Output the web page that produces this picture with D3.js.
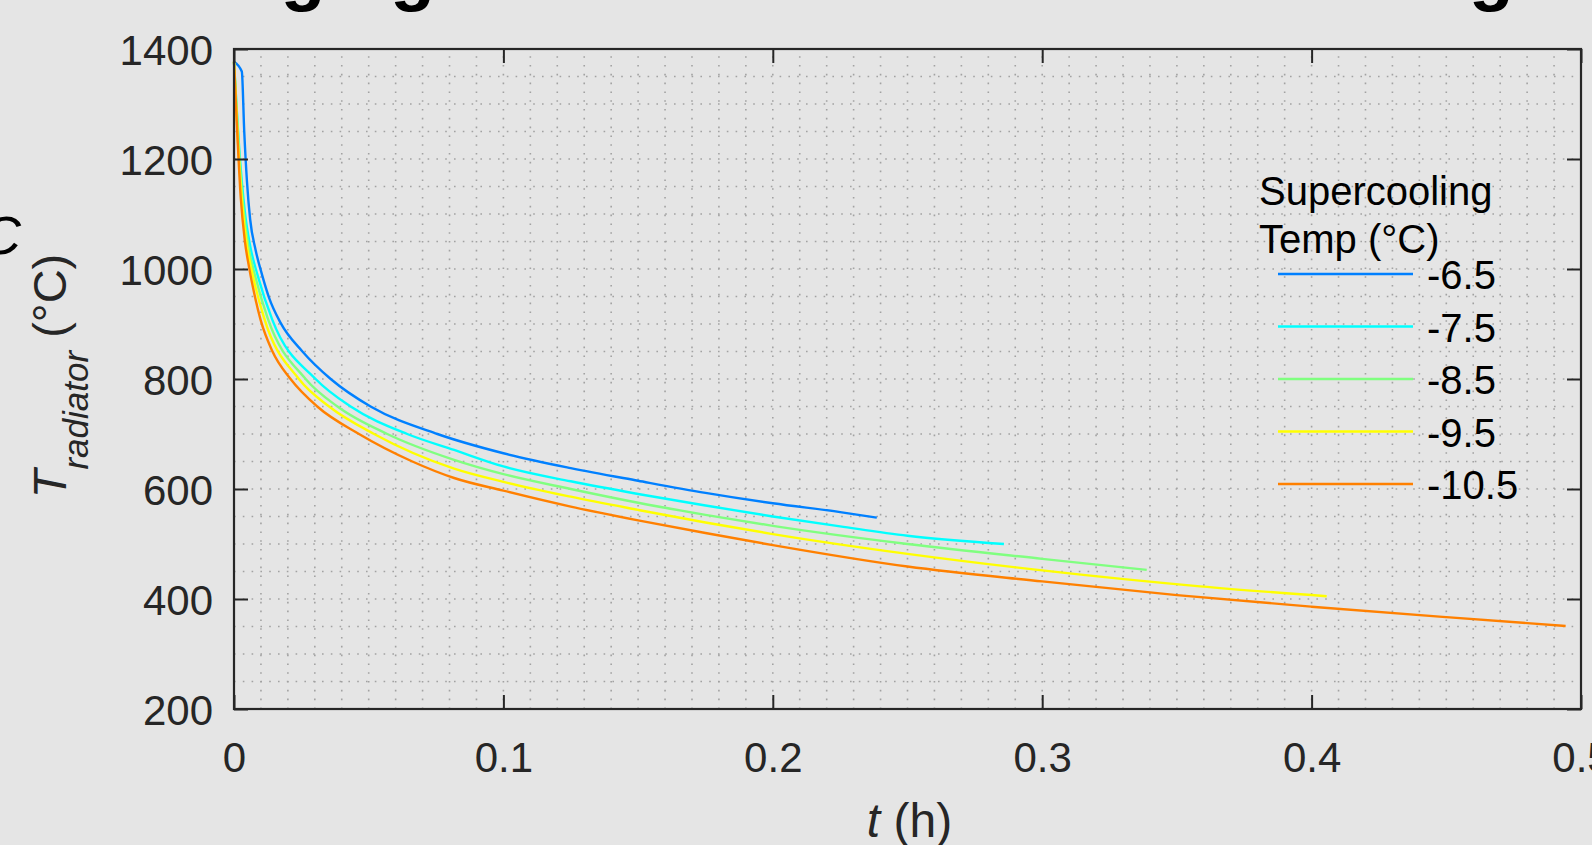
<!DOCTYPE html>
<html><head><meta charset="utf-8">
<script src="https://cdn.jsdelivr.net/npm/d3@7"></script>
<style>
html,body{margin:0;padding:0;background:#e5e5e5;overflow:hidden;}
svg{display:block;}
text{font-family:"Liberation Sans",Arial,Helvetica,sans-serif;}
</style></head><body>
<svg id="chart" width="1592" height="845"></svg>
<script>
// ---------- data ----------
const titleText = "Discharging Radiator Cool Down Following Nucleation";
const legendTitle = ["Supercooling", "Temp (\u00B0C)"];
const seriesLabels = ["-6.5", "-7.5", "-8.5", "-9.5", "-10.5"];
const seriesColors = ["#0080ff", "#00ffff", "#80ff80", "#ffff00", "#ff8000"];
const xTicks = [0, 0.1, 0.2, 0.3, 0.4, 0.5];
const xTickLabels = ["0", "0.1", "0.2", "0.3", "0.4", "0.5"];
const yTicks = [200, 400, 600, 800, 1000, 1200, 1400];
const yTickLabels = ["200", "400", "600", "800", "1000", "1200", "1400"];

// -6.5 °C
const t_65 = [0, 0.0029, 0.0038, 0.0048, 0.006, 0.008, 0.0105, 0.013, 0.0173, 0.0254, 0.0359, 0.0507, 0.0755, 0.1, 0.125, 0.15, 0.175, 0.2, 0.225, 0.2386];
const T_65 = [1377, 1359, 1250, 1160, 1090, 1035, 988, 948, 902, 850, 800, 750, 700, 665, 638, 615, 593, 574, 558, 548];
// -7.5 °C
const t_75 = [0, 0.002, 0.004, 0.006, 0.0088, 0.0142, 0.0303, 0.0433, 0.0643, 0.0817, 0.1, 0.125, 0.15, 0.175, 0.2, 0.225, 0.25, 0.2858];
const T_75 = [1377, 1215, 1105, 1042, 988, 908, 800, 750, 700, 671, 641, 614, 591, 570, 550, 532, 515, 500];
// -8.5 °C
const t_85 = [0, 0.0018, 0.0035, 0.0055, 0.0078, 0.0124, 0.0266, 0.0384, 0.0569, 0.0817, 0.1, 0.125, 0.15, 0.175, 0.2, 0.25, 0.3, 0.3388];
const T_85 = [1377, 1220, 1110, 1037, 988, 912, 800, 750, 700, 653, 627, 600, 575, 553, 533, 500, 473, 453];
// -9.5 °C
const t_95 = [0, 0.0015, 0.003, 0.0048, 0.0068, 0.0111, 0.0241, 0.0353, 0.052, 0.0817, 0.1, 0.125, 0.15, 0.175, 0.2, 0.25, 0.3, 0.3586, 0.4056];
const T_95 = [1377, 1230, 1120, 1042, 992, 912, 800, 750, 700, 637, 613, 586, 562, 539, 518, 482, 452, 423, 405];
// -10.5 °C
const t_105 = [0, 0.001, 0.0025, 0.004, 0.0056, 0.0074, 0.0099, 0.0142, 0.021, 0.0309, 0.0464, 0.0662, 0.0817, 0.1, 0.125, 0.15, 0.175, 0.2, 0.25, 0.3, 0.35, 0.4, 0.45, 0.4943];
const T_105 = [1377, 1270, 1130, 1052, 1003, 958, 907, 851, 800, 750, 700, 650, 620, 597, 568, 543, 520, 498, 459, 432, 407, 386, 367, 351];

const seriesT = [t_65, t_75, t_85, t_95, t_105];
const seriesV = [T_65, T_75, T_85, T_95, T_105];

// ---------- layout ----------
const W = 1592, H = 845;
const plot = {left: 234, right: 1581, top: 49, bottom: 709};
const ink = "#262626";

const svg = d3.select("#chart");
svg.append("rect").attr("width", W).attr("height", H).attr("fill", "#e5e5e5");

const x = d3.scaleLinear().domain([0, 0.5]).range([plot.left, plot.right]);
const y = d3.scaleLinear().domain([200, 1400]).range([plot.bottom, plot.top]);

// title (cut off at top of the image)
svg.append("text")
  .attr("x", 13).attr("y", -3)
  .attr("font-size", 73).attr("font-weight", "bold").attr("fill", "#000")
  .text(titleText);

// partial letter at far left
svg.append("text")
  .attr("x", -18).attr("y", 254)
  .attr("font-size", 54).attr("font-style", "italic").attr("fill", "#000")
  .text("C");

// ---------- grid ----------
const grid = svg.append("g").attr("stroke", "#a2a2a2").attr("stroke-width", 1.6)
  .attr("stroke-dasharray", "1.6,7.2").attr("fill", "none");
const xMinor = d3.range(0, 0.5001, 0.01);
const yMinor = d3.range(200, 1400.1, 50);
grid.selectAll("line.v").data(xMinor).join("line").attr("class", "v")
  .attr("x1", d => x(d)).attr("x2", d => x(d))
  .attr("y1", plot.bottom).attr("y2", plot.top);
grid.selectAll("line.h").data(yMinor).join("line").attr("class", "h")
  .attr("x1", plot.left).attr("x2", plot.right)
  .attr("y1", d => y(d)).attr("y2", d => y(d));

// ---------- curves ----------
const line = d3.line().x(d => x(d[0])).y(d => y(d[1])).curve(d3.curveMonotoneX);
const seriesData = seriesLabels.map((lab, i) => ({
  label: lab, color: seriesColors[i],
  pts: seriesT[i].map((t, j) => [t, seriesV[i][j]])
}));
svg.append("g").selectAll("path").data(seriesData).join("path")
  .attr("d", d => line(d.pts))
  .attr("fill", "none").attr("stroke", d => d.color)
  .attr("stroke-width", 2.4).attr("stroke-linejoin", "round");

// ---------- axes ----------
const tick = 14;
function styleAxis(g) {
  g.select(".domain").remove();
  g.selectAll(".tick line").attr("stroke", ink).attr("stroke-width", 2);
  g.selectAll(".tick text").attr("fill", ink).attr("font-size", 42)
    .attr("font-family", "'Liberation Sans', Arial, sans-serif");
}
const xAxis = svg.append("g").attr("transform", `translate(0,${plot.bottom})`)
  .call(d3.axisBottom(x).tickValues(xTicks).tickFormat((d, i) => xTickLabels[i])
    .tickSizeInner(-tick).tickSizeOuter(0).tickPadding(0));
styleAxis(xAxis);
xAxis.selectAll(".tick text").attr("y", 63).attr("dy", null);

const xAxisTop = svg.append("g").attr("transform", `translate(0,${plot.top})`)
  .call(d3.axisTop(x).tickValues(xTicks).tickFormat("").tickSizeInner(-tick).tickSizeOuter(0));
styleAxis(xAxisTop);

const yAxis = svg.append("g").attr("transform", `translate(${plot.left},0)`)
  .call(d3.axisLeft(y).tickValues(yTicks).tickFormat((d, i) => yTickLabels[i])
    .tickSizeInner(-tick).tickSizeOuter(0).tickPadding(0));
styleAxis(yAxis);
yAxis.selectAll(".tick text").attr("x", -21).attr("dy", null).attr("y", 15);

const yAxisRight = svg.append("g").attr("transform", `translate(${plot.right},0)`)
  .call(d3.axisRight(y).tickValues(yTicks).tickFormat("").tickSizeInner(-tick).tickSizeOuter(0));
styleAxis(yAxisRight);

// box
svg.append("rect")
  .attr("x", plot.left).attr("y", plot.top)
  .attr("width", plot.right - plot.left).attr("height", plot.bottom - plot.top)
  .attr("fill", "none").attr("stroke", ink).attr("stroke-width", 2.2);

// ---------- axis labels ----------
const xl = svg.append("text")
  .attr("x", (plot.left + plot.right) / 2 + 2).attr("y", 837)
  .attr("text-anchor", "middle").attr("font-size", 48).attr("fill", ink);
xl.append("tspan").attr("font-style", "italic").text("t");
xl.append("tspan").text(" (h)");

const yl = svg.append("text")
  .attr("transform", `translate(66,${(plot.top + plot.bottom) / 2 - 3}) rotate(-90)`)
  .attr("text-anchor", "middle").attr("font-size", 47).attr("fill", ink);
yl.append("tspan").attr("font-style", "italic").text("T");
yl.append("tspan").attr("font-style", "italic").attr("font-size", 35).attr("dy", 22).text("radiator");
yl.append("tspan").attr("dy", -22).text(" (\u00B0C)");

// ---------- legend ----------
const lg = svg.append("g");
lg.selectAll("text.title").data(legendTitle).join("text").attr("class", "title")
  .attr("x", 1259).attr("y", (d, i) => 205 + i * 48)
  .attr("font-size", 40).attr("fill", "#000").text(d => d);
const rowY0 = 274, rowStep = 52.5;
const rows = lg.selectAll("g.row").data(seriesData).join("g").attr("class", "row")
  .attr("transform", (d, i) => `translate(0,${rowY0 + i * rowStep})`);
rows.append("line").attr("x1", 1278).attr("x2", 1413).attr("y1", 0).attr("y2", 0)
  .attr("stroke", d => d.color).attr("stroke-width", 2.4);
rows.append("text").attr("x", 1427).attr("y", 15)
  .attr("font-size", 40).attr("fill", "#000").text(d => d.label);
</script>
</body></html>
